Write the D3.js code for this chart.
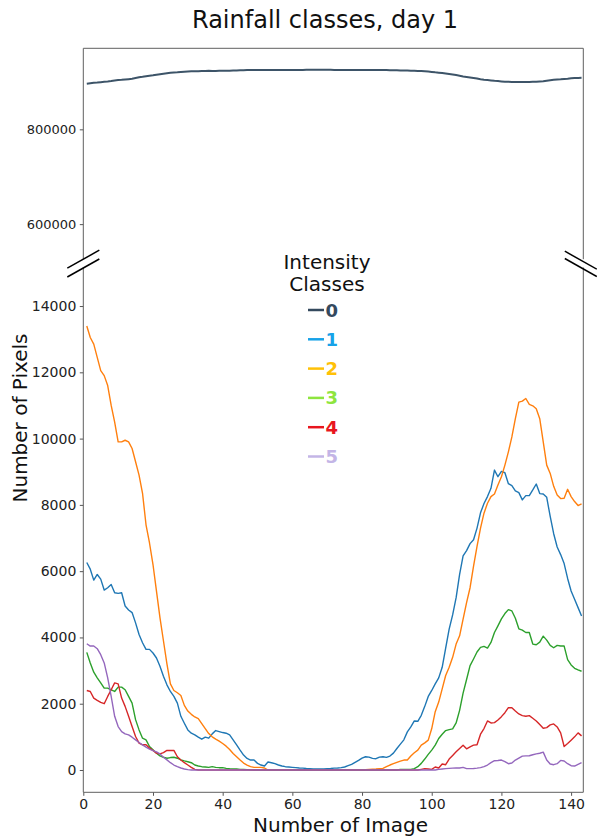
<!DOCTYPE html>
<html><head><meta charset="utf-8">
<script src="https://cdn.jsdelivr.net/npm/d3@7/dist/d3.min.js"></script>
<style>body{margin:0;background:#fff}svg{display:block;font-family:"DejaVu Sans",sans-serif}</style>
</head><body><svg id="c" width="597" height="840"></svg>
<script>
// ---------- data ----------
const classNames = ["0","1","2","3","4","5"];
const class0 = [896100,897100,898100,898600,899500,900500,900900,901800,903000,903900,
904400,905200,905900,906700,908300,909700,910800,912100,913000,914000,
915200,916400,917500,918500,919400,919800,920300,921000,921600,922100,
922400,922700,922800,923100,923200,923400,923300,923300,923400,923500,
923600,923800,924100,924300,924600,924800,925000,925100,925100,925200,
925300,925300,925300,925300,925300,925400,925400,925400,925400,925400,
925400,925400,925400,925500,925500,925500,925500,925500,925500,925500,
925500,925400,925400,925400,925400,925400,925300,925300,925200,925100,
925100,925100,925100,925100,925100,925100,925000,924900,924800,924600,
924400,924300,924000,923800,923500,923300,922900,922400,921900,921200,
920300,919600,918700,917600,916600,915700,914500,913000,911300,910400,
909300,908300,907100,905600,904600,903900,903300,902300,901900,901200,
900600,900400,900000,899800,899700,899900,899800,900000,900200,900200,
900800,901400,902600,903600,904600,905200,905700,906400,906900,907700,
908100,908300,908600];
const class1 = [6260,6060,5730,5900,5760,5430,5500,5600,5350,5330,
5350,4950,4830,4750,4440,4090,3840,3640,3640,3530,
3380,3130,2830,2570,2370,2220,2020,1620,1410,1210,
1110,1060,990,930,990,960,1090,1190,1160,1130,
1110,1060,910,760,600,450,350,300,300,200,
150,120,240,220,190,150,120,100,90,80,
70,60,55,45,40,35,30,30,35,40,
45,55,60,70,90,130,170,230,290,360,
400,390,350,340,390,400,380,420,510,650,
780,910,1150,1300,1480,1470,1650,1920,2220,2400,
2600,2780,3100,3680,4250,4680,5200,5900,6460,6620,
6830,6950,7300,7760,8040,8250,8500,9050,8850,9010,
8970,8640,8580,8420,8370,8150,8280,8280,8450,8630,
8340,8330,8230,7650,7130,6730,6500,6230,5780,5400,
5150,4900,4650];
const class2 = [13400,13050,12850,12450,12050,11900,11600,11000,10500,9900,
9900,9950,9900,9700,9300,8900,8350,7400,6850,6200,
5400,4600,3900,3200,2600,2400,2330,2250,1950,1780,
1680,1600,1550,1400,1250,1100,1000,930,870,800,
720,620,500,400,300,210,150,100,80,80,
80,60,0,0,0,0,0,0,0,0,
0,0,0,0,0,0,0,0,0,0,
0,0,0,0,0,0,0,0,0,0,
10,20,25,30,40,50,100,150,190,230,
270,300,300,420,520,600,750,820,900,1250,
1760,2050,2450,2850,3100,3400,3800,4050,4550,5050,
5500,6150,6750,7300,7750,8050,8250,8330,8600,8850,
9200,9600,10050,10600,11100,11130,11210,11030,10990,10900,
10600,9900,9200,8950,8560,8300,8190,8200,8470,8250,
8100,7980,8030];
const class3 = [3550,3230,2950,2780,2630,2470,2470,2420,2370,2500,
2500,2420,2220,2020,1520,1210,960,910,710,610,
505,425,385,355,375,385,355,305,275,250,
220,150,120,100,90,80,100,80,70,70,
50,40,35,30,20,15,10,5,0,0,
0,0,0,0,0,0,0,0,0,0,
0,0,0,0,0,0,0,0,0,0,
0,0,0,0,0,0,0,0,0,0,
0,0,0,0,0,0,0,0,0,0,
20,20,20,20,40,100,200,330,470,600,
750,950,1080,1190,1220,1240,1420,1800,2320,2730,
3150,3350,3560,3700,3730,3680,3850,4150,4350,4560,
4720,4840,4800,4580,4260,4220,4150,4150,3800,3780,
3860,4040,3920,3760,3690,3760,3740,3740,3330,3170,
3070,3020,2980];
const class4 = [2400,2370,2170,2100,2040,2000,2220,2420,2630,2600,
2170,1920,1620,1310,1010,810,760,760,660,590,
505,485,525,590,590,590,400,300,220,150,
80,20,0,0,0,0,0,0,0,0,
0,0,0,0,0,0,0,0,0,0,
0,0,0,0,0,0,0,0,0,0,
0,0,0,0,0,0,0,0,0,0,
0,0,0,0,0,0,0,0,0,0,
0,0,0,0,0,0,0,0,0,0,
0,0,0,0,0,0,20,40,30,20,
90,60,180,160,330,440,550,650,750,640,
700,750,760,1080,1250,1480,1420,1430,1510,1610,
1730,1880,1880,1780,1690,1640,1620,1640,1560,1480,
1370,1260,1280,1360,1390,1300,1120,710,800,900,
1000,1120,1030];
const class5 = [3810,3740,3740,3660,3480,3230,2780,2220,1620,1310,
1160,1090,1060,990,910,830,760,690,630,585,
545,485,385,305,220,150,100,60,30,10,
0,0,0,0,0,0,0,0,0,0,
0,0,0,0,0,0,0,0,0,0,
0,0,0,0,0,0,0,0,0,0,
0,0,0,0,0,0,0,0,0,0,
0,0,0,0,0,0,0,0,0,0,
0,0,0,0,0,0,0,0,0,0,
0,0,0,0,0,0,0,0,0,0,
0,20,30,40,50,55,60,60,80,40,
40,45,55,70,100,150,220,280,285,300,
250,190,210,300,360,420,425,430,460,485,
505,540,300,180,160,190,290,270,190,130,
120,170,220];
const xTicks = [0,20,40,60,80,100,120,140];
const topTicks = [600000,800000];
const bottomTicks = [0,2000,4000,6000,8000,10000,12000,14000];
const lineColors = ["#3d5468","#1f77b4","#ff7f0e","#2ca02c","#d62728","#9467bd"];
const legendColors = ["#34495e","#17a2e8","#ffc107","#8ee53f","#e8161e","#c3b5e6"];

// ---------- layout ----------
const svg = d3.select("#c");
const L = 83.3, R = 583.3;
const topY0 = 48.3, topY1 = 259.2, botY0 = 267.5, botY1 = 792.3;
const x = d3.scaleLinear().domain([0,143.5]).range([L,R]);
const yTop = d3.scaleLinear().domain([526000,971000]).range([topY1,topY0]);
const yBot = d3.scaleLinear().domain([-673,15163]).range([botY1,botY0]);

const defs = svg.append("defs");
defs.append("clipPath").attr("id","clipTop").append("rect").attr("x",L).attr("y",topY0).attr("width",R-L).attr("height",topY1-topY0);
defs.append("clipPath").attr("id","clipBot").append("rect").attr("x",L).attr("y",botY0).attr("width",R-L).attr("height",botY1-botY0);

// lines
const lineTop = d3.line().x((d,i)=>x(i+1)).y(d=>yTop(d));
const lineBot = d3.line().x((d,i)=>x(i+1)).y(d=>yBot(d));
svg.append("path").attr("clip-path","url(#clipTop)").attr("d",lineTop(class0))
  .attr("fill","none").attr("stroke",lineColors[0]).attr("stroke-width",2);
[class1,class2,class3,class4,class5].forEach((s,k)=>{
  svg.append("path").attr("clip-path","url(#clipBot)").attr("d",lineBot(s))
    .attr("fill","none").attr("stroke",lineColors[k+1]).attr("stroke-width",1.4)
    .attr("stroke-linejoin","round");
});

// axes
function styleAxis(size){
  return g=>{
    g.select(".domain").remove();
    g.selectAll(".tick line").attr("stroke","#555");
    g.selectAll(".tick text").attr("fill","#222").style("font-size",size).style("font-family","DejaVu Sans");
  };
}
svg.append("g").attr("transform",`translate(${L},0)`)
  .call(d3.axisLeft(yTop).tickValues(topTicks).tickFormat(d3.format("d")).tickSize(3.5).tickPadding(3.5)).call(styleAxis("13px"));
svg.append("g").attr("transform",`translate(${L},0)`)
  .call(d3.axisLeft(yBot).tickValues(bottomTicks).tickFormat(d3.format("d")).tickSize(3.5).tickPadding(3.5)).call(styleAxis("14px"));
svg.append("g").attr("transform",`translate(0,${botY1})`)
  .call(d3.axisBottom(x).tickValues(xTicks).tickSize(3.5).tickPadding(3.5)).call(styleAxis("14px"));

// spines
const sp = svg.append("g").attr("stroke","#606060").attr("stroke-width",1).attr("fill","none");
sp.append("path").attr("d",`M${L},${topY1}V${topY0}H${R}V${topY1}`);
sp.append("path").attr("d",`M${L},${botY0}V${botY1}H${R}V${botY0}`);

// break marks
const bk = svg.append("g").attr("stroke","#000").attr("stroke-width",1.5);
[[L,topY1],[L,botY0+0.5]].forEach(([cx,cy])=>{
  bk.append("line").attr("x1",cx-16).attr("y1",cy+9).attr("x2",cx+16).attr("y2",cy-9);
});
[[R-2.5,topY1+1],[R-2.5,botY0]].forEach(([cx,cy])=>{
  bk.append("line").attr("x1",cx-16).attr("y1",cy-9).attr("x2",cx+16).attr("y2",cy+9);
});

// titles
svg.append("text").attr("x",325).attr("y",28).attr("text-anchor","middle")
  .style("font-size","24px").attr("fill","#111").text("Rainfall classes, day 1");
svg.append("text").attr("x",340.5).attr("y",831.5).attr("text-anchor","middle")
  .style("font-size","20px").attr("fill","#111").text("Number of Image");
svg.append("text").attr("transform","translate(26.5,418) rotate(-90)").attr("text-anchor","middle")
  .style("font-size","20px").attr("fill","#111").text("Number of Pixels");

// legend
const lg = svg.append("g");
lg.append("text").attr("x",327).attr("y",268.5).attr("text-anchor","middle").style("font-size","20px").attr("fill","#111").text("Intensity");
lg.append("text").attr("x",327).attr("y",290.5).attr("text-anchor","middle").style("font-size","20px").attr("fill","#111").text("Classes");
classNames.forEach((c,i)=>{
  const yy = 310 + i*29.3;
  lg.append("line").attr("x1",308).attr("x2",324).attr("y1",yy).attr("y2",yy)
    .attr("stroke",legendColors[i]).attr("stroke-width",2.5);
  lg.append("text").attr("x",325.5).attr("y",yy+6.5).style("font-size","18px").style("font-weight","bold")
    .attr("fill",legendColors[i]).text(c);
});
</script></body></html>
